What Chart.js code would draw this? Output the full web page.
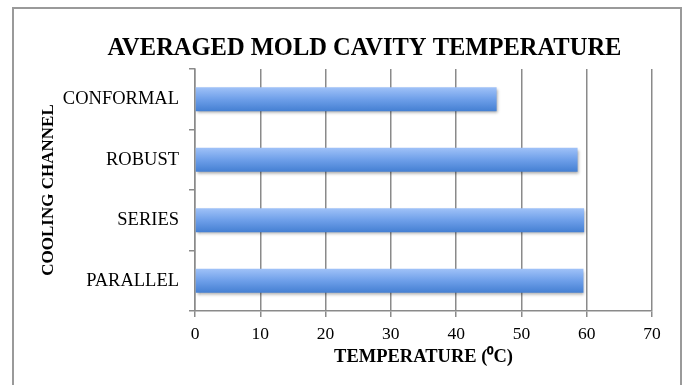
<!DOCTYPE html>
<html>
<head>
<meta charset="utf-8">
<script src="https://cdn.jsdelivr.net/npm/chart.js@4/dist/chart.umd.min.js"></script>
<style>
  html, body { margin: 0; padding: 0; background: #fff; }
  #wrap { position: relative; width: 684px; height: 385px; }
</style>
</head>
<body>
<div id="wrap"><canvas id="c" width="684" height="385"></canvas></div>
<script>
const channels = ['CONFORMAL', 'ROBUST', 'SERIES', 'PARALLEL'];
const avgTemps = [46.2, 58.6, 59.6, 59.5];
const xTicks = [0, 10, 20, 30, 40, 50, 60, 70];

const SERIF = '"Liberation Serif", "Times New Roman", serif';
const GRID = '#8a8a8a';
const BAR_PCT = 0.4;

// Vertical gradient for each bar, built from the bar's own band on the y scale
function barGradient(ctx) {
  const chart = ctx.chart;
  if (!chart.chartArea || ctx.dataIndex === undefined) return '#6e9fe9';
  const y = chart.scales.y;
  const center = y.getPixelForValue(ctx.dataIndex);
  const half = (y.height / channels.length) * BAR_PCT / 2;
  const g = chart.ctx.createLinearGradient(0, center - half, 0, center + half);
  g.addColorStop(0, '#a0c2f8');
  g.addColorStop(0.5, '#6e9fe9');
  g.addColorStop(1, '#447fd2');
  return g;
}

// Outer frame, a soft shadow under the bars, and a y-axis box that reaches the left edge
const decor = {
  id: 'decor',
  afterLayout(chart) {
    const y = chart.scales.y;
    y.left = 0;
    y.width = y.right;
  },
  beforeDraw(chart) {
    const ctx = chart.ctx;
    ctx.save();
    ctx.fillStyle = '#fff';
    ctx.fillRect(0, 0, chart.width, chart.height);
    ctx.strokeStyle = '#9a9a9a';
    ctx.lineWidth = 2;
    ctx.strokeRect(13, 8, 668, 400);
    ctx.restore();
  },
  beforeDatasetsDraw(chart) {
    const ctx = chart.ctx;
    ctx.save();
    ctx.shadowColor = 'rgba(0,0,0,0.35)';
    ctx.shadowBlur = 3;
    ctx.shadowOffsetX = 1;
    ctx.shadowOffsetY = 2;
  },
  afterDatasetsDraw(chart) {
    chart.ctx.restore();
  }
};

new Chart(document.getElementById('c'), {
  type: 'bar',
  data: {
    labels: channels,
    datasets: [{
      data: avgTemps,
      backgroundColor: barGradient,
      borderWidth: 0,
      barPercentage: BAR_PCT,
      categoryPercentage: 1.0
    }]
  },
  options: {
    indexAxis: 'y',
    responsive: false,
    animation: false,
    events: [],
    layout: { padding: { left: 77, right: 32, top: 0, bottom: 0 } },
    plugins: {
      legend: { display: false },
      tooltip: { enabled: false },
      title: {
        display: true,
        text: 'AVERAGED MOLD CAVITY TEMPERATURE',
        color: '#000',
        font: { family: SERIF, size: 24.5, weight: 'bold', lineHeight: 1.2 },
        padding: { top: 34, bottom: 5.6 }
      }
    },
    scales: {
      x: {
        type: 'linear',
        min: 0,
        max: 70,
        afterBuildTicks(scale) { scale.ticks = xTicks.map(v => ({ value: v })); },
        afterFit(scale) { scale.height = 74; },
        grid: {
          color: GRID,
          lineWidth: 1.5,
          drawTicks: true,
          tickLength: 6,
          tickColor: GRID
        },
        border: { display: true, color: GRID, width: 1.5 },
        ticks: {
          color: '#000',
          padding: 7,
          font: { family: SERIF, size: 17.5 }
        },
        title: {
          display: true,
          text: 'TEMPERATURE (\u2070C)',
          color: '#000',
          font: { family: SERIF, size: 18.5, weight: 'bold', lineHeight: 1.2 },
          padding: { top: 0, bottom: 17 }
        }
      },
      y: {
        type: 'category',
        afterFit(scale) { scale.width = 118; },
        grid: {
          offset: true,
          drawOnChartArea: false,
          drawTicks: true,
          tickLength: 6,
          color: GRID,
          lineWidth: 1.5
        },
        border: { display: true, color: GRID, width: 1.5 },
        ticks: {
          color: '#000',
          padding: 10,
          font: { family: SERIF, size: 18.5 }
        },
        title: {
          display: true,
          text: 'COOLING CHANNEL',
          color: '#000',
          font: { family: SERIF, size: 17, weight: 'bold', lineHeight: 1.2 },
          padding: { top: 38, bottom: 0 }
        }
      }
    }
  },
  plugins: [decor]
});
</script>
</body>
</html>
